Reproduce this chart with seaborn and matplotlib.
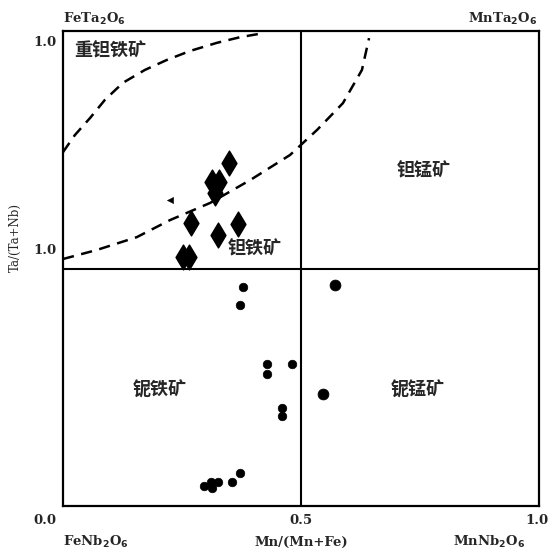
import numpy as np
import pandas as pd
import matplotlib
matplotlib.use("Agg")
import matplotlib.pyplot as plt
import seaborn as sns

# diamond points (tantalite field)
ta_x = [0.349, 0.313, 0.328, 0.319, 0.269, 0.368, 0.326, 0.252, 0.265]
ta_y = [0.722, 0.682, 0.682, 0.660, 0.596, 0.594, 0.571, 0.524, 0.524]

# circle points (columbite field)
nb_x = [0.378, 0.372, 0.429, 0.429, 0.481, 0.460, 0.460, 0.372, 0.355, 0.326, 0.311, 0.296, 0.313]
nb_y = [0.461, 0.423, 0.299, 0.278, 0.299, 0.206, 0.189, 0.069, 0.051, 0.051, 0.051, 0.042, 0.038]

# the two larger circles
big_x = [0.571, 0.546]
big_y = [0.465, 0.236]

# dashed boundary curves
c1_x = [0.0, 0.025, 0.057, 0.088, 0.126, 0.172, 0.218, 0.267, 0.323, 0.372, 0.424]
c1_y = [0.745, 0.781, 0.817, 0.855, 0.891, 0.918, 0.939, 0.958, 0.975, 0.987, 0.996]
c2_x = [0.0, 0.071, 0.155, 0.225, 0.309, 0.393, 0.477, 0.534, 0.588, 0.628, 0.643]
c2_y = [0.520, 0.539, 0.566, 0.602, 0.638, 0.686, 0.739, 0.792, 0.848, 0.918, 0.985]

field_names = ["重钽铁矿", "钽铁矿", "钽锰矿", "铌铁矿", "铌锰矿"]
field_x = [0.099, 0.403, 0.758, 0.204, 0.746]
field_y = [0.958, 0.541, 0.705, 0.244, 0.244]

sns.set_style("white")
plt.rcParams["font.family"] = ["DejaVu Serif", "Noto Sans CJK SC"]

W, H = 549, 551
fig = plt.figure(figsize=(W / 100, H / 100), dpi=100)
ax = fig.add_axes([63 / W, 1 - 506 / H, 476 / W, 475 / H])

curve1 = pd.DataFrame({"x": c1_x, "y": c1_y})
curve2 = pd.DataFrame({"x": c2_x, "y": c2_y})
for cv in (curve1, curve2):
    sns.lineplot(data=cv, x="x", y="y", sort=False, estimator=None, ax=ax,
                 color="black", linewidth=1.8, linestyle=(0, (4.5, 3)))

ax.axvline(0.5, color="black", linewidth=1.5)
ax.axhline(0.5, color="black", linewidth=1.5)

sns.scatterplot(x=ta_x, y=ta_y, marker="d", s=160, color="black", edgecolor="black", ax=ax)
sns.scatterplot(x=[0.225], y=[0.644], marker="<", s=20, color="black", edgecolor="black", ax=ax)
sns.scatterplot(x=nb_x, y=nb_y, marker="o", s=38, color="black", edgecolor="black", ax=ax)
sns.scatterplot(x=big_x, y=big_y, marker="o", s=60, color="black", edgecolor="black", ax=ax)

for name, fx, fy in zip(field_names, field_x, field_y):
    ax.text(fx, fy, name, ha="center", va="center", fontsize=13, fontweight="bold",
            family="Noto Sans CJK SC")

ax.set_xlim(0, 1)
ax.set_ylim(0, 1)
ax.set_xticks([])
ax.set_yticks([])
ax.set_xlabel("")
ax.set_ylabel("")
for sp in ax.spines.values():
    sp.set_visible(True)
    sp.set_color("black")
    sp.set_linewidth(1.6)


def ftext(px, py, s, **kw):
    fig.text(px / W, 1 - py / H, s, **kw)


bold = dict(fontsize=9.5, fontweight="bold", va="center")
ftext(63, 19, r"FeTa$_\mathbf{2}$O$_\mathbf{6}$", ha="left", **bold)
ftext(537, 19, r"MnTa$_\mathbf{2}$O$_\mathbf{6}$", ha="right", **bold)
ftext(45, 42, "1.0", ha="center", **bold)
ftext(45, 251, "1.0", ha="center", **bold)
ftext(45, 521, "0.0", ha="center", **bold)
ftext(301, 521, "0.5", ha="center", **bold)
ftext(537, 521, "1.0", ha="center", **bold)
ftext(63, 542, r"FeNb$_\mathbf{2}$O$_\mathbf{6}$", ha="left", **bold)
ftext(301, 542, "Mn/(Mn+Fe)", ha="center", **bold)
ftext(525, 542, r"MnNb$_\mathbf{2}$O$_\mathbf{6}$", ha="right", **bold)
ftext(15, 237, "Ta/(Ta+Nb)", ha="center", va="center", rotation=90, fontsize=8.5)

fig.savefig("out.png", dpi=100)
